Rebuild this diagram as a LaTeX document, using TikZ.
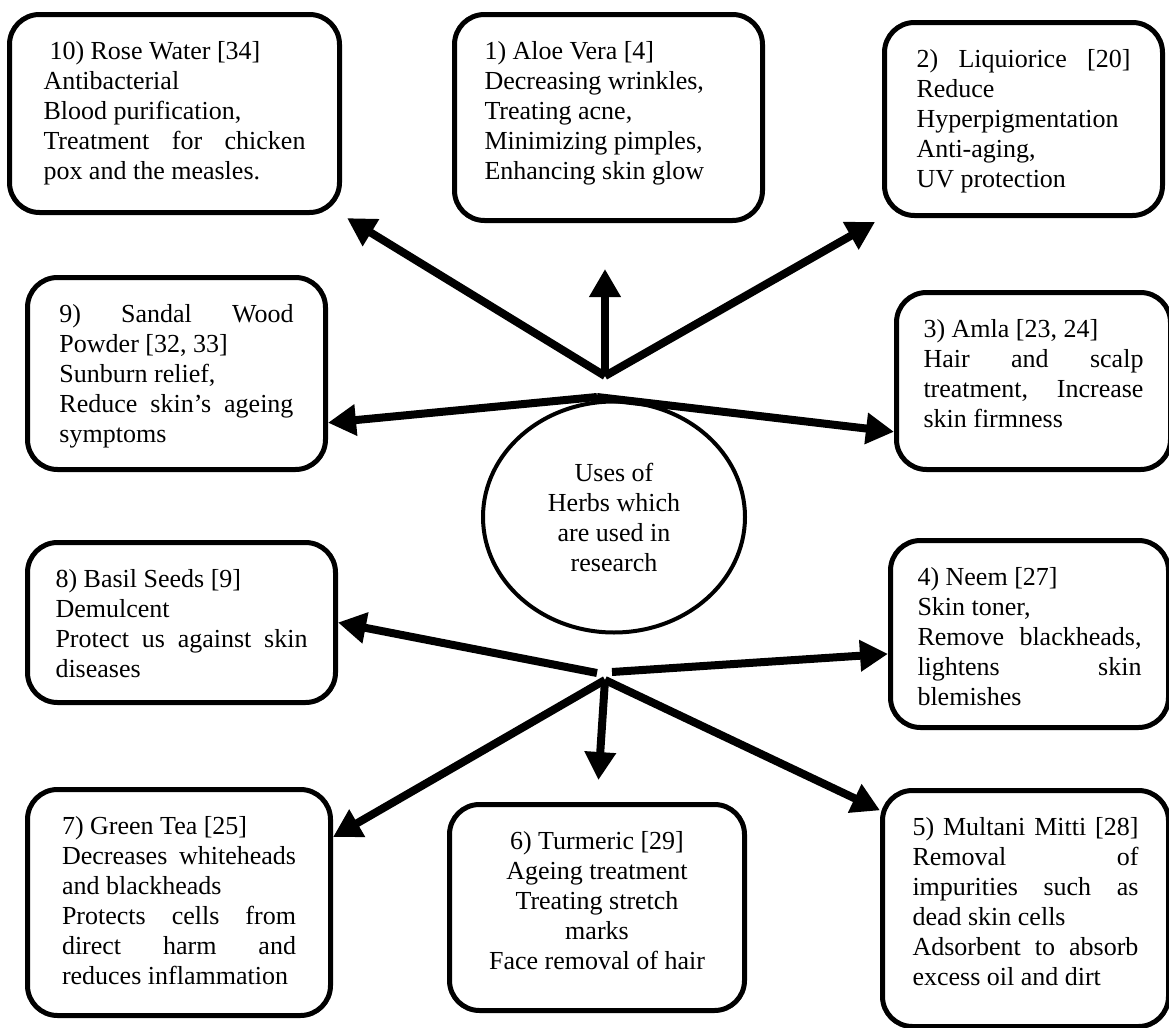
\documentclass[tikz,border=0pt]{standalone}
\usepackage{fontspec}
\setmainfont{Liberation Serif}
\usetikzlibrary{arrows.meta,shapes.geometric,calc}

\newcommand{\herbfont}{\fontsize{13pt}{15pt}\selectfont}
\newcommand{\herbtext}[3]{\begin{minipage}[t][#2][t]{#1}#3\end{minipage}}
\newcommand{\fillline}[1]{\makebox[\linewidth][s]{#1}}

\tikzset{
  herbbox/.style={draw, line width=2.5pt, rounded corners=15pt, anchor=north west, inner ysep=13.5pt, font=\herbfont},
  herbhub/.style={draw, ellipse, line width=2pt, inner sep=0pt, align=center, font=\herbfont},
  herbarrow/.style={line width=4pt, -{Triangle[length=14pt, width=15pt]}},
}

\begin{document}
\begin{tikzpicture}[x=0.5pt, y=-0.5pt]
    \useasboundingbox (0,0) rectangle (1169,1028);

    % Centro
    \node[herbhub, minimum width=131pt, minimum height=115.5pt] (uses) at (614,517) {Uses of\\Herbs which\\are used in\\research};

    % Riquadri in alto
    \node[herbbox, inner xsep=17pt] (rose) at (7,12) {\herbtext{131pt}{72pt}{\hspace*{3pt}10) Rose Water [34]\\ Antibacterial\\ Blood purification,\\ \fillline{Treatment for chicken}\\ pox and the measles.}};
    \node[herbbox, inner xsep=15pt] (aloe) at (452,12) {\herbtext{124pt}{76pt}{1) Aloe Vera [4]\\ Decreasing wrinkles,\\ Treating acne,\\ Minimizing pimples,\\ Enhancing skin glow}};
    \node[herbbox, inner xsep=16pt] (liq) at (882,20) {\herbtext{107pt}{69.5pt}{\fillline{2) Liquiorice [20]}\\ Reduce\\ Hyperpigmentation\\ Anti-aging,\\ UV protection}};
    \node[herbbox, inner xsep=16pt] (sandal) at (25,275) {\herbtext{117pt}{69pt}{\fillline{9) Sandal Wood}\\ Powder [32, 33]\\ Sunburn relief,\\ \fillline{Reduce skin’s ageing}\\ symptoms}};
    \node[herbbox, inner xsep=13.5pt] (amla) at (894,290) {\herbtext{110pt}{61.5pt}{3) Amla [23, 24]\\ \fillline{Hair and scalp}\\ \fillline{treatment, Increase}\\ skin firmness}};

    % Riquadri in basso
    \node[herbbox, inner xsep=14pt] (basil) at (25,540) {\herbtext{126pt}{53pt}{8) Basil Seeds [9]\\ Demulcent\\ \fillline{Protect us against skin}\\ diseases}};
    \node[herbbox, inner xsep=13.5pt] (neem) at (888,538) {\herbtext{112pt}{66.5pt}{4) Neem [27]\\ Skin toner,\\ \fillline{Remove blackheads,}\\ \fillline{lightens skin}\\ blemishes}};
    \node[herbbox, inner xsep=17.25pt] (green) at (25,787) {\herbtext{117pt}{86pt}{7) Green Tea [25]\\ \fillline{Decreases whiteheads}\\ and blackheads\\ \fillline{Protects cells from}\\ \fillline{direct harm and}\\ reduces inflammation}};
    \node[herbbox, inner xsep=12.5pt] (turmeric) at (447,802) {\herbtext{122.5pt}{76pt}{\centering 6) Turmeric [29]\\ Ageing treatment\\ Treating stretch\\ marks\\ Face removal of hair}};
    \node[herbbox, inner xsep=15pt] (multani) at (880,788) {\herbtext{113pt}{91pt}{\fillline{5) Multani Mitti [28]}\\ \fillline{Removal of}\\ \fillline{impurities such as}\\ dead skin cells\\ \fillline{Adsorbent to absorb}\\ excess oil and dirt}};

    % Punti di partenza delle frecce
    \coordinate (tophub) at (605,376);
    \coordinate (midhub) at (597,397);
    \coordinate (botleft) at (597,673);
    \coordinate (botright) at (612,672);
    \coordinate (botfan) at (605,680);

    % Frecce
    \draw[herbarrow, shorten >=3pt] (tophub) -- (rose.south east);
    \draw[herbarrow, shorten >=23pt] (tophub) -- (tophub |- aloe.south);
    \draw[herbarrow, shorten >=4pt] (tophub) -- (liq.south west);
    \draw[herbarrow] (midhub) -- (sandal.-18);
    \draw[herbarrow] (midhub) -- (amla.200);
    \draw[herbarrow] (botleft) -- (basil.east);
    \draw[herbarrow] (botright) -- (neem.188);
    \draw[herbarrow] (botfan) -- (green.23);
    \draw[herbarrow, shorten >=11pt] (botfan) -- (turmeric.north);
    \draw[herbarrow] (botfan) -- (multani.146);
\end{tikzpicture}
\end{document}
